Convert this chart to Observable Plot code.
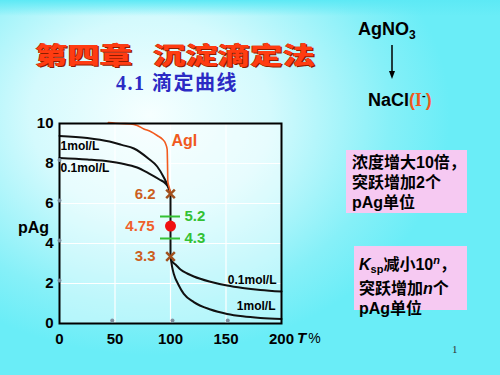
<!DOCTYPE html>
<html>
<head>
<meta charset="utf-8">
<script src="https://cdn.jsdelivr.net/npm/d3@7"></script>
<script src="https://cdn.jsdelivr.net/npm/@observablehq/plot@0.6"></script>
<style>
  html, body { margin: 0; padding: 0; }
  #slide {
    position: relative; width: 500px; height: 375px; overflow: hidden;
    background: radial-gradient(ellipse 300px 240px at 150px 115px, #f6ffff 0%, #d4fafd 40%, #86f0f8 80%, #6aedf7 100%);
    font-family: "Liberation Sans", Arial, "Noto Sans CJK SC", sans-serif;
  }
  #topstrip { position: absolute; left: 0; top: 0; width: 500px; height: 16px;
    background: linear-gradient(#5de9f5, rgba(93,233,245,0)); }
  .title { position: absolute; top: 42px; font-family: "Noto Sans CJK SC", sans-serif; font-weight: 900;
    font-size: 24px; line-height: 24px; color: #ff3c12; transform: scaleX(1.35); transform-origin: left center;
    text-shadow: 1px 1px 0 #8c1c00, -0.5px -0.5px 0 #b02a08; white-space: nowrap; }
  #subtitle { position: absolute; left: 116px; top: 71px; font-family: "Liberation Serif", "Noto Sans CJK SC", serif;
    font-size: 20px; line-height: 24px; color: #2b2bc4; letter-spacing: 1.5px; white-space: nowrap; font-weight: bold; }
  .chem { position: absolute; font-weight: bold; font-size: 18px; line-height: 22px; color: #000; white-space: nowrap; }
  .box { position: absolute; background: #f6c9f2; font-family: "Liberation Sans", "Noto Sans CJK SC", sans-serif;
    font-weight: bold; font-size: 16px; line-height: 20px; color: #000; box-sizing: border-box; white-space: nowrap; }
  #chart { position: absolute; left: 0; top: 110px; }
  #pageno { position: absolute; left: 452px; top: 343px; font-family: "Liberation Serif", serif; font-size: 11px; color: #333; }
</style>
</head>
<body>
<div id="slide">
  <div id="topstrip"></div>
  <span class="title" style="left:35px">第四章</span>
  <span class="title" style="left:153px">沉淀滴定法</span>
  <div id="subtitle">4.1 滴定曲线</div>
  <div class="chem" style="left:358px; top:18px;">AgNO<sub style="font-size:12px; vertical-align:-4px;">3</sub></div>
  <svg style="position:absolute; left:385px; top:44px;" width="14" height="36">
    <line x1="7" y1="1" x2="7" y2="30" stroke="#000" stroke-width="1.5"/>
    <path d="M4 27 L7 35 L10 27 Z" fill="#000"/>
  </svg>
  <div class="chem" style="left:368px; top:84px;">NaCl<span style="color:#f05a1e">(<span style="font-family:'Liberation Serif',serif">I</span></span><sup style="font-size:11px; vertical-align:7px;">-</sup><span style="color:#f05a1e">)</span></div>
  <div class="box" style="left:346px; top:150px; width:121px; height:63px; padding:3px 0 0 6px;">浓度增大10倍，<br>突跃增加2个<br>pAg单位</div>
  <div class="box" style="left:354px; top:246px; width:113px; height:64px; padding:4px 0 0 5px;"><i>K</i><sub style="font-size:11px; vertical-align:-3px;">sp</sub>减小10<sup style="font-size:11px; vertical-align:6px;"><i>n</i></sup>，<br>突跃增加<i>n</i>个<br>pAg单位</div>
  <div id="chart"></div>
  <div id="pageno">1</div>
</div>
<script>
// ---- axes ----
const xTicks = [0, 50, 100, 150, 200];
const yTicks = [0, 2, 4, 6, 8, 10];
const gridXTicks = [50, 100, 150];
const gridYTicks = [2, 4, 6, 8];

// ---- curves (T %, pAg) ----
const hi1T  = [0, 25, 45, 56, 67, 80, 88, 94, 98.5, 100];
const hi1P  = [9.38, 9.28, 9.1, 8.93, 8.75, 8.25, 7.85, 7.3, 6.75, 6.48];
const hi01T = [0, 25, 45, 56, 70, 80, 90, 95.5, 98.5, 100];
const hi01P = [8.28, 8.2, 8.1, 8.0, 7.8, 7.52, 7.2, 7.0, 6.75, 6.48];
const jumpT = [100, 100];
const jumpP = [6.48, 3.35];
const lo01T = [100, 100.5, 102, 104.5, 109, 115, 121, 135, 151, 165, 181, 200];
const lo01P = [3.35, 3.2, 3.07, 2.95, 2.7, 2.5, 2.35, 2.1, 1.9, 1.78, 1.68, 1.6];
const lo1T  = [100, 101.5, 103, 107.5, 112, 121, 136, 151, 165, 181, 200];
const lo1P  = [3.35, 2.82, 2.48, 1.9, 1.48, 1.07, 0.7, 0.48, 0.36, 0.28, 0.23];
const agiT  = [44, 55, 64, 70, 76, 82, 88, 93, 95.5, 97, 97.3, 97.6, 99.1, 100];
const agiP  = [10.05, 10.0, 9.98, 9.9, 9.73, 9.6, 9.4, 9.2, 9.0, 8.7, 8.0, 7.1, 6.75, 6.48];

// ---- annotations ----
const jumpMarkT = [100, 100];
const jumpMarkP = [6.48, 3.35];
const jumpMarkLabels = ["6.2", "3.3"];
const eqT = [100];
const eqP = [4.87];
const eqLabels = ["4.75"];
const indP = [5.35, 4.25];
const indLabels = ["5.2", "4.3"];
const indX1 = [91, 91];
const indX2 = [109, 109];
const curveLabelTexts = ["1mol/L", "0.1mol/L", "0.1mol/L", "1mol/L"];
const curveLabelT = [1, 1, 195.5, 194.6];
const curveLabelP = [8.85, 7.77, 2.15, 0.85];
const curveLabelAnchor = ["start", "start", "end", "end"];
const agiLabel = ["AgI"];
const agiLabelT = [100];
const agiLabelP = [9.12];
const greyDotT = [0, 0, 0, 0, 47.5, 101.8, 151.6];
const greyDotP = [8.18, 6.15, 4.15, 2.15, 0.15, 0.15, 0.15];
const xAxisTitle = ["T", "%"];
const yAxisTitle = ["pAg"];

const pts = (T, P) => T.map((t, i) => ({T: t, P: P[i]}));
const curveLabels = curveLabelTexts.map((s, i) => ({s, T: curveLabelT[i], P: curveLabelP[i], a: curveLabelAnchor[i]}));
const jumpMarks = jumpMarkT.map((t, i) => ({T: t, P: jumpMarkP[i], s: jumpMarkLabels[i]}));
const eq = eqT.map((t, i) => ({T: t, P: eqP[i], s: eqLabels[i]}));
const ind = indP.map((p, i) => ({P: p, x1: indX1[i], x2: indX2[i], s: indLabels[i]}));

const black = "#111";
const lineOpts = {x: "T", y: "P", stroke: black, strokeWidth: 2, curve: "monotone-x"};

const chart = Plot.plot({
  width: 340, height: 240,
  marginLeft: 59, marginRight: 59, marginTop: 13, marginBottom: 27,
  x: {domain: [0, 200]},
  y: {domain: [0, 10]},
  style: {background: "transparent", fontFamily: "'Liberation Sans', Arial, sans-serif", fontWeight: "bold", fontSize: "15px", color: "#000", overflow: "visible"},
  marks: [
    Plot.frame({fill: "white", fillOpacity: 0.45, stroke: "none"}),
    Plot.gridX(gridXTicks, {stroke: "white", strokeOpacity: 1, strokeWidth: 1.2}),
    Plot.gridY(gridYTicks, {stroke: "white", strokeOpacity: 1, strokeWidth: 1.2}),
    Plot.axisX(xTicks, {tickSize: 0, tickPadding: 10, label: null, fontSize: 15, fontWeight: "bold"}),
    Plot.axisY(yTicks, {tickSize: 0, tickPadding: 6, label: null, fontSize: 15, fontWeight: "bold"}),
    Plot.line(pts(hi1T, hi1P), lineOpts),
    Plot.line(pts(hi01T, hi01P), lineOpts),
    Plot.line(pts(jumpT, jumpP), {x: "T", y: "P", stroke: black, strokeWidth: 2}),
    Plot.line(pts(lo01T, lo01P), lineOpts),
    Plot.line(pts(lo1T, lo1P), lineOpts),
    Plot.line(pts(agiT, agiP), {x: "T", y: "P", stroke: "#f25a1e", strokeWidth: 1.6, curve: "monotone-x"}),
    Plot.frame({stroke: "#000", strokeWidth: 2}),
    Plot.dot(pts(greyDotT, greyDotP), {x: "T", y: "P", r: 2, fill: "#7f8fa0", stroke: "none"}),
    Plot.ruleY(ind, {y: "P", x1: "x1", x2: "x2", stroke: "#33c133", strokeWidth: 2}),
    Plot.text(ind, {x: () => 100, y: "P", text: "s", dx: 14, textAnchor: "start", fill: "#33c133", fontSize: 15, fontWeight: "bold"}),
    Plot.dot(jumpMarks, {x: "T", y: "P", symbol: "times", r: 4, stroke: "#a0501e", strokeWidth: 2.5}),
    Plot.text(jumpMarks, {x: "T", y: "P", text: "s", dx: -15, textAnchor: "end", fill: "#cc5f1e", fontSize: 15, fontWeight: "bold"}),
    Plot.dot(eq, {x: "T", y: "P", r: 5.5, fill: "#f01010", stroke: "none"}),
    Plot.text(eq, {x: "T", y: "P", text: "s", dx: -16, textAnchor: "end", fill: "#f0602a", fontSize: 15, fontWeight: "bold"}),
    Plot.text(curveLabels.filter(d => d.a === "start"), {x: "T", y: "P", text: "s", textAnchor: "start", fill: "#000", fontSize: 12, fontWeight: "bold"}),
    Plot.text(curveLabels.filter(d => d.a === "end"), {x: "T", y: "P", text: "s", textAnchor: "end", fill: "#000", fontSize: 12, fontWeight: "bold"}),
    Plot.text(agiLabelT.map((t, i) => ({T: t, P: agiLabelP[i], s: agiLabel[i]})), {x: "T", y: "P", text: "s", dx: 1, textAnchor: "start", fill: "#f05a1e", fontSize: 16, fontWeight: "bold"}),
    Plot.text(yAxisTitle, {x: () => 0, y: () => 4.8, text: d => d, dx: -26, fontSize: 16, fontWeight: "bold"}),
    Plot.text([xAxisTitle[0]], {x: () => 200, y: () => 0, text: d => d, dx: 20, dy: 15, fontSize: 15, fontWeight: "bold", fontStyle: "italic"}),
    Plot.text([xAxisTitle[1]], {x: () => 200, y: () => 0, text: d => d, dx: 33, dy: 15, fontSize: 14, fontWeight: "normal"})
  ]
});
document.getElementById("chart").appendChild(chart);
</script>
</body>
</html>
